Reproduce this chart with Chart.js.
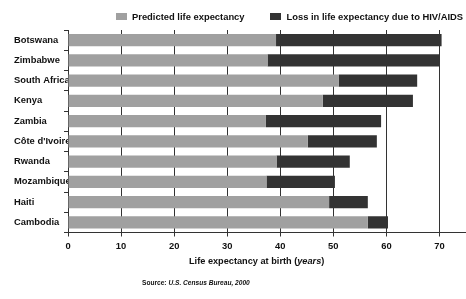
<!DOCTYPE html>
<html>
<head>
<meta charset="utf-8">
<script src="https://cdn.jsdelivr.net/npm/chart.js@4"></script>
<style>
  html, body { margin: 0; padding: 0; background: #fff; }
  #wrap { position: relative; width: 466px; height: 299px; font-family: "Liberation Sans", Arial, sans-serif; font-weight: bold; color: #111; }
  canvas { position: absolute; left: 0; top: 0; }
  .lg-box { position: absolute; width: 11px; height: 7px; }
  .lg-txt { position: absolute; font-size: 9.4px; line-height: 10px; white-space: nowrap; }
  #xtitle { position: absolute; left: 189px; top: 256px; font-size: 9.2px; line-height: 11px; white-space: nowrap; }
  #source { position: absolute; left: 142px; top: 279px; font-size: 6.6px; line-height: 8px; white-space: nowrap; }
</style>
</head>
<body>
<div id="wrap">
  <canvas id="c" width="466" height="299"></canvas>
  <div class="lg-box" id="box1" style="left:116px; top:13px;"></div>
  <div class="lg-txt" id="txt1" style="left:132px; top:11.5px;"></div>
  <div class="lg-box" id="box2" style="left:270px; top:13px;"></div>
  <div class="lg-txt" id="txt2" style="left:286.5px; top:11.5px;"></div>
  <div id="xtitle">Life expectancy at birth (<i>years</i>)</div>
  <div id="source">Source: <i>U.S. Census Bureau, 2000</i></div>
</div>
<script>
const countries = ["Botswana", "Zimbabwe", "South Africa", "Kenya", "Zambia", "Côte d'Ivoire", "Rwanda", "Mozambique", "Haiti", "Cambodia"];
const predicted = [39.2, 37.6, 51.0, 48.0, 37.3, 45.2, 39.3, 37.4, 49.2, 56.5];
const loss = [31.2, 32.4, 14.8, 17.0, 21.7, 13.0, 13.8, 12.9, 7.3, 3.8];
const seriesNames = ["Predicted life expectancy", "Loss in life expectancy due to HIV/AIDS"];
const xTickValues = [0, 10, 20, 30, 40, 50, 60, 70];

const colors = ["#a0a0a0", "#333333"];
document.getElementById("box1").style.background = colors[0];
document.getElementById("box2").style.background = colors[1];
document.getElementById("txt1").textContent = seriesNames[0];
document.getElementById("txt2").textContent = seriesNames[1];

const font = { family: "'Liberation Sans', Arial, sans-serif", size: 9.4, weight: "bold" };

new Chart(document.getElementById("c"), {
  type: "bar",
  data: {
    labels: countries,
    datasets: [
      { label: seriesNames[0], data: predicted, backgroundColor: colors[0], borderWidth: 0 },
      { label: seriesNames[1], data: loss, backgroundColor: colors[1], borderWidth: 0 }
    ]
  },
  options: {
    indexAxis: "y",
    responsive: false,
    animation: false,
    devicePixelRatio: 1,
    categoryPercentage: 1,
    barPercentage: 0.6,
    layout: { padding: { top: 30, left: 14, right: 0, bottom: 0 } },
    plugins: { legend: { display: false }, tooltip: { enabled: false } },
    scales: {
      x: {
        stacked: true,
        min: 0,
        max: 75,
        afterBuildTicks: (s) => { s.ticks = s.ticks.filter(t => xTickValues.includes(t.value)); },
        afterFit: (s) => { s.height = 66.5; },
        ticks: { stepSize: 10, color: "#111", font: font, padding: 4, maxRotation: 0 },
        grid: { color: "#333", lineWidth: 1, tickLength: 4, tickColor: "#333" },
        border: { color: "#333", width: 1 }
      },
      y: {
        stacked: true,
        afterFit: (s) => { s.width = 54; },
        ticks: { color: "#111", font: font, crossAlign: "far", padding: 4, autoSkip: false },
        grid: { drawOnChartArea: false, tickLength: 4, tickColor: "#333", offset: true },
        border: { color: "#333", width: 1 }
      }
    }
  }
});
</script>
</body>
</html>
